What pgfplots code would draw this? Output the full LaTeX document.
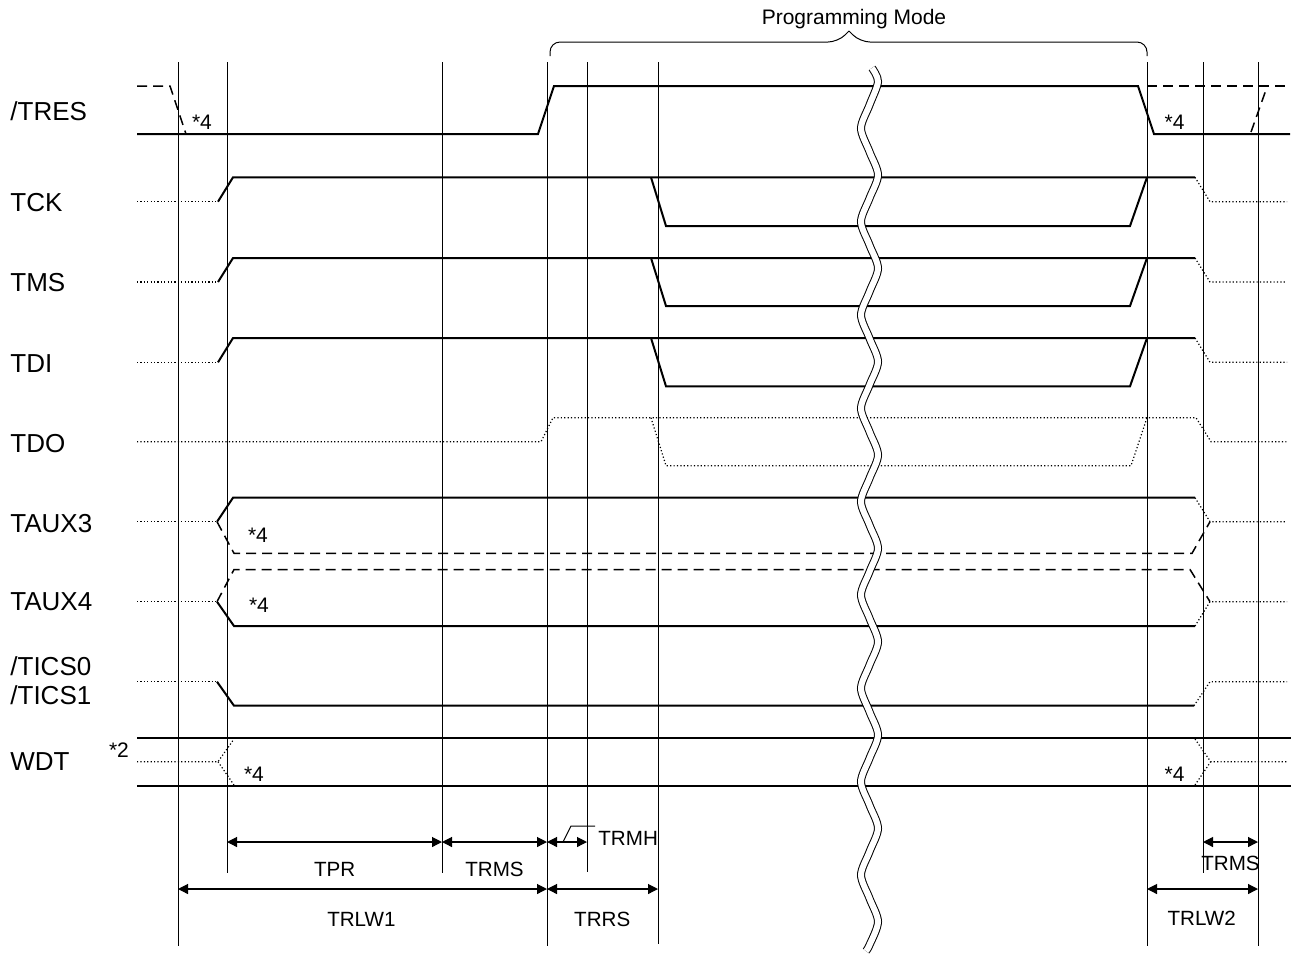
\documentclass[border=0pt]{standalone}
\usepackage{fontspec}
\setmainfont{Liberation Sans}
\usepackage{pgfplots}
\pgfplotsset{compat=1.18}
\usetikzlibrary{arrows.meta}

\tikzset{
  sig/.style={black, line width=1pt},
  thin/.style={black, line width=0.5pt},
  dot/.style={black, line width=0.6pt, dash pattern=on 0.6pt off 1.1pt},
  dsh/.style={black, line width=0.75pt, dash pattern=on 5pt off 3pt},
  dim/.style={black, line width=0.6pt, {Triangle[length=5pt,width=5pt]}-{Triangle[length=5pt,width=5pt]}},
  lbl/.style={anchor=base west, inner sep=0pt, font=\fontsize{13}{13}\selectfont},
  note/.style={anchor=base, inner sep=0pt, font=\fontsize{10.5}{10.5}\selectfont},
  tim/.style={anchor=base, inner sep=0pt, font=\fontsize{10.3}{10.3}\selectfont},
}

\begin{document}
\begin{tikzpicture}
\begin{axis}[
  scale only axis, width=648pt, height=475.5pt,
  xmin=0, xmax=1296, ymin=0, ymax=951, y dir=reverse,
  hide axis, clip=false, no markers,
]
% page frame
\addplot[draw=none] coordinates {(0,0) (1296,951)};

% vertical timing lines
\addplot[thin] coordinates {(178,62) (178,946)};
\addplot[thin] coordinates {(227,62) (227,873)};
\addplot[thin] coordinates {(442,62) (442,873)};
\addplot[thin] coordinates {(547,62) (547,946)};
\addplot[thin] coordinates {(587,62) (587,872)};
\addplot[thin] coordinates {(658,62) (658,944)};
\addplot[thin] coordinates {(1147,62) (1147,946)};
\addplot[thin] coordinates {(1203,62) (1203,873)};
\addplot[thin] coordinates {(1258,62) (1258,946)};

% Programming Mode brace
\addplot[thin, rounded corners=5pt] coordinates {(550,56) (550,42) (838,42) (849,31)};
\addplot[thin, rounded corners=5pt] coordinates {(1147,56) (1147,42) (860,42) (849,31)};

% /TRES
\addplot[dsh] coordinates {(137,86) (170,86) (186,134)};
\addplot[sig] coordinates {(137,134) (538,134) (554,86) (1138,86) (1154,134) (1290,134)};
\addplot[dsh] coordinates {(1147,86) (1288,86)};
\addplot[dsh] coordinates {(1251,132) (1267,87)};

% TCK
\addplot[dot] coordinates {(137,201.7) (218,201.7)};
\addplot[sig] coordinates {(218,201.7) (233,177.3) (1195,177.3)};
\addplot[dot] coordinates {(1195,177.3) (1210,201.7) (1287,201.7)};
\addplot[sig] coordinates {(651,177.3) (666,226) (1130,226) (1147,177.3)};

% TMS
\addplot[dot] coordinates {(137,282) (218,282)};
\addplot[sig] coordinates {(218,282) (233,258) (1195,258)};
\addplot[dot] coordinates {(1195,258) (1210,282) (1287,282)};
\addplot[sig] coordinates {(651,258) (666,306) (1130,306) (1147,258)};

% TDI
\addplot[dot] coordinates {(137,362.3) (218,362.3)};
\addplot[sig] coordinates {(218,362.3) (233,338) (1195,338)};
\addplot[dot] coordinates {(1195,338) (1210,362.3) (1287,362.3)};
\addplot[sig] coordinates {(651,338) (666,386.3) (1130,386.3) (1147,338)};

% TDO
\addplot[dot] coordinates {(137,441.7) (541,441.7) (553,417.7) (1196,417.7) (1211,441.7) (1287,441.7)};
\addplot[dot] coordinates {(651,417.7) (666,465.7) (1131,465.7) (1147,417.7)};

% TAUX3
\addplot[dot] coordinates {(137,521.7) (217,521.7)};
\addplot[sig] coordinates {(217,521.7) (233,497.7) (1195,497.7)};
\addplot[dsh] coordinates {(217,521.7) (234,553.3) (1192,553.3) (1210,521.7)};
\addplot[dot] coordinates {(1195,497.7) (1210,521.7) (1287,521.7)};

% TAUX4
\addplot[dot] coordinates {(137,601.7) (217,601.7)};
\addplot[sig] coordinates {(217,601.7) (234,626) (1195,626)};
\addplot[dsh] coordinates {(217,601.7) (234,569.5) (1190,569.5) (1210,601.7)};
\addplot[dot] coordinates {(1195,626) (1210,601.7) (1287,601.7)};

% /TICS0 /TICS1
\addplot[dot] coordinates {(137,681.7) (217,681.7)};
\addplot[sig] coordinates {(217,681.7) (234,705.7) (1194,705.7)};
\addplot[dot] coordinates {(1194,705.7) (1210,681.7) (1287,681.7)};

% WDT
\addplot[sig] coordinates {(137,737.7) (1291,737.7)};
\addplot[sig] coordinates {(137,785.7) (1291,785.7)};
\addplot[dot] coordinates {(137,761.7) (218,761.7) (234,739)};
\addplot[dot] coordinates {(218,761.7) (234,785)};
\addplot[dot] coordinates {(1195,739) (1210.7,761.7) (1287,761.7)};
\addplot[dot] coordinates {(1195,785) (1210.7,761.7)};

% wavy break
\addplot[smooth, black, line width=0.5pt, double=white, double distance=3pt] coordinates {
 (872,68) (878,81.7) (869.5,105.0) (861,128.3) (869.5,151.7)
 (878,175.0) (869.5,198.3) (861,221.7) (869.5,245.0)
 (878,268.3) (869.5,291.7) (861,315.0) (869.5,338.3)
 (878,361.7) (869.5,385.0) (861,408.3) (869.5,431.7)
 (878,455.0) (869.5,478.3) (861,501.7) (869.5,525.0)
 (878,548.3) (869.5,571.7) (861,595.0) (869.5,618.3)
 (878,641.7) (869.5,665.0) (861,688.3) (869.5,711.7)
 (878,735.0) (869.5,758.3) (861,781.7) (869.5,805.0)
 (878,828.3) (869.5,851.7) (861,875.0) (869.5,898.3)
 (878,921.7) (869.5,945.0) (866,951)};

% timing dimensions
\addplot[dim] coordinates {(227,842) (442,842)};
\addplot[dim] coordinates {(442,842) (547,842)};
\addplot[dim] coordinates {(547,842) (587,842)};
\addplot[dim] coordinates {(178,889) (547,889)};
\addplot[dim] coordinates {(547,889) (658,889)};
\addplot[dim] coordinates {(1203,842) (1258,842)};
\addplot[dim] coordinates {(1147,889) (1258,889)};
\addplot[thin] coordinates {(563,842) (571,826) (595,826)};

% signal names
\node[lbl] at (axis cs:10,120) {/TRES};
\node[lbl] at (axis cs:10,211.7) {TCK};
\node[lbl] at (axis cs:10,291.7) {TMS};
\node[lbl] at (axis cs:10,372) {TDI};
\node[lbl] at (axis cs:10,452) {TDO};
\node[lbl] at (axis cs:10,532.3) {TAUX3};
\node[lbl] at (axis cs:10,610.7) {TAUX4};
\node[lbl] at (axis cs:10,675) {/TICS0};
\node[lbl] at (axis cs:10,704) {/TICS1};
\node[lbl] at (axis cs:10,770.7) {WDT};

% notes
\node[note] at (axis cs:202,129.3) {*4};
\node[note] at (axis cs:1174.5,129.3) {*4};
\node[note] at (axis cs:258,542.7) {*4};
\node[note] at (axis cs:259,612.7) {*4};
\node[note] at (axis cs:254,781.7) {*4};
\node[note] at (axis cs:1174.5,781.7) {*4};
\node[note] at (axis cs:119,757.3) {*2};

% timing names
\node[note] at (axis cs:854,24) {Programming Mode};
\node[tim] at (axis cs:334.7,876.7) {TPR};
\node[tim] at (axis cs:494.5,876.7) {TRMS};
\node[tim, anchor=base west] at (axis cs:598,845) {TRMH};
\node[tim] at (axis cs:361.4,926) {TRLW1};
\node[tim] at (axis cs:602.2,926) {TRRS};
\node[tim] at (axis cs:1230.5,870.7) {TRMS};
\node[tim] at (axis cs:1201.7,925) {TRLW2};
\end{axis}
\end{tikzpicture}
\end{document}
